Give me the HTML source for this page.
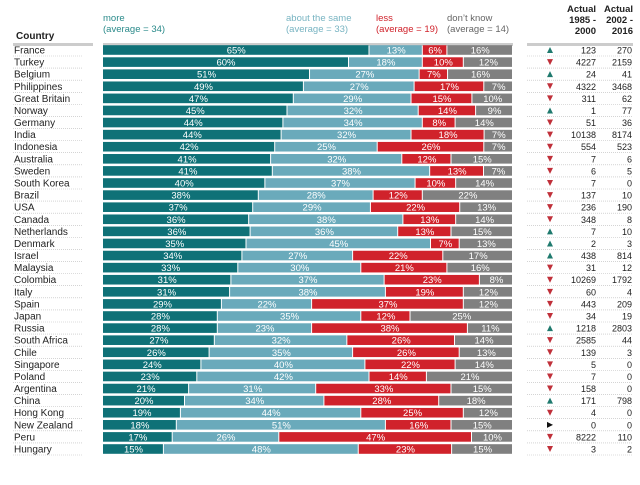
<!DOCTYPE html>
<html><head><meta charset="utf-8"><style>
body{margin:0;background:#fff;width:640px;height:480px;overflow:hidden}
svg{font-family:"Liberation Sans",sans-serif}
</style></head><body>
<svg id="c" width="640" height="480">
<text x="16" y="39" font-size="10" font-weight="bold" fill="#222">Country</text>
<text x="103" y="21" font-size="9.5" fill="#2a8a8a">more</text>
<text x="103" y="32" font-size="9.5" fill="#2a8a8a">(average = 34)</text>
<text x="286" y="21" font-size="9.5" fill="#78b4c2">about the same</text>
<text x="286" y="32" font-size="9.5" fill="#78b4c2">(average = 33)</text>
<text x="376" y="21" font-size="9.5" fill="#d0222b">less</text>
<text x="376" y="32" font-size="9.5" fill="#d0222b">(average = 19)</text>
<text x="447" y="21" font-size="9.5" fill="#666">don’t know</text>
<text x="447" y="32" font-size="9.5" fill="#666">(average = 14)</text>
<g font-size="9.5" font-weight="bold" fill="#222" text-anchor="end">
<text x="596" y="12">Actual</text><text x="596" y="23">1985 -</text><text x="596" y="34">2000</text>
<text x="633" y="12">Actual</text><text x="633" y="23">2002 -</text><text x="633" y="34">2016</text>
</g>
<rect x="13" y="43" width="80" height="3" fill="#ccc"/>
<rect x="103" y="43" width="410" height="3" fill="#ccc"/>
<rect x="527" y="43" width="106" height="3" fill="#ccc"/>
</svg>
<script>
const countries=["France","Turkey","Belgium","Philippines","Great Britain","Norway","Germany","India","Indonesia","Australia","Sweden","South Korea","Brazil","USA","Canada","Netherlands","Denmark","Israel","Malaysia","Colombia","Italy","Spain","Japan","Russia","South Africa","Chile","Singapore","Poland","Argentina","China","Hong Kong","New Zealand","Peru","Hungary"];
const more=[65,60,51,49,47,45,44,44,42,41,41,40,38,37,36,36,35,34,33,31,31,29,28,28,27,26,24,23,21,20,19,18,17,15];
const same=[13,18,27,27,29,32,34,32,25,32,38,37,28,29,38,36,45,27,30,37,38,22,35,23,32,35,40,42,31,34,44,51,26,48];
const less=[6,10,7,17,15,14,8,18,26,12,13,10,12,22,13,13,7,22,21,23,19,37,12,38,26,26,22,14,33,28,25,16,47,23];
const dontKnow=[16,12,16,7,10,9,14,7,7,15,7,14,22,13,14,15,13,17,16,8,12,12,25,11,14,13,14,21,15,18,12,15,10,15];
const trend=["up","down","up","down","down","up","down","down","down","down","down","down","down","down","down","up","up","up","down","down","down","down","down","up","down","down","down","down","down","up","down","flat","down","down"];
const actual1=[123,4227,24,4322,311,1,51,10138,554,7,6,7,137,236,348,7,2,438,31,10269,60,443,34,1218,2585,139,5,7,158,171,4,0,8222,3];
const actual2=[270,2159,41,3468,62,77,36,8174,523,6,5,0,10,190,8,10,3,814,12,1792,4,209,19,2803,44,3,0,0,0,798,0,0,110,2];
const colors=["#0f7177","#6aaabb","#d0222b","#808080"];
const NS="http://www.w3.org/2000/svg",svg=document.getElementById('c');
const X0=103,W=410,Y0=50,PITCH=(449-50)/33;
const yPos=i=>Y0+i*PITCH;
function mk(t,a){const e=document.createElementNS(NS,t);for(const k in a)e.setAttribute(k,a[k]);svg.appendChild(e);return e;}
countries.forEach((c,i)=>{
  const y=yPos(i);
  const lab=mk('text',{x:14,y:y+3.5,'font-size':10,fill:'#222'});lab.textContent=c;
  
  
  const d1=mk('line',{x1:13,x2:82,y1:y+6,y2:y+6,stroke:'#bbb','stroke-dasharray':'1,1','stroke-width':0.6});
  
  
  const d2=mk('line',{x1:527,x2:633,y1:y+6,y2:y+6,stroke:'#bbb','stroke-dasharray':'1,1','stroke-width':0.6});
  
  
  const vals=[more[i],same[i],less[i],dontKnow[i]];
  const tot=vals.reduce((a,b)=>a+b,0);
  let x=X0;
  vals.forEach((v,k)=>{
    const w=v/tot*W;
    const r=mk('rect',{x:x,y:y-4.8,width:Math.max(w-1,0),height:9.6,fill:colors[k]});
    
    
    const t=mk('text',{x:x+w/2,y:y+3.5,'font-size':9.5,fill:'#fff','text-anchor':'middle'});t.textContent=v+'%';
    
    
    x+=w;
  });
  let tri;
  if(trend[i]==='up')tri=mk('path',{d:`M547,${y+3} L553,${y+3} L550,${y-3} Z`,fill:'#1f7a6e'});
  else if(trend[i]==='down')tri=mk('path',{d:`M547,${y-3} L553,${y-3} L550,${y+3} Z`,fill:'#c0303a'});
  else tri=mk('path',{d:`M547,${y-3} L547,${y+3} L553,${y} Z`,fill:'#111'});
  
  
  const a1=mk('text',{x:596,y:y+3.5,'font-size':9,fill:'#222','text-anchor':'end'});a1.textContent=actual1[i];
  
  
  const a2=mk('text',{x:632,y:y+3.5,'font-size':9,fill:'#222','text-anchor':'end'});a2.textContent=actual2[i];
  
  
});
</script>
</body></html>
